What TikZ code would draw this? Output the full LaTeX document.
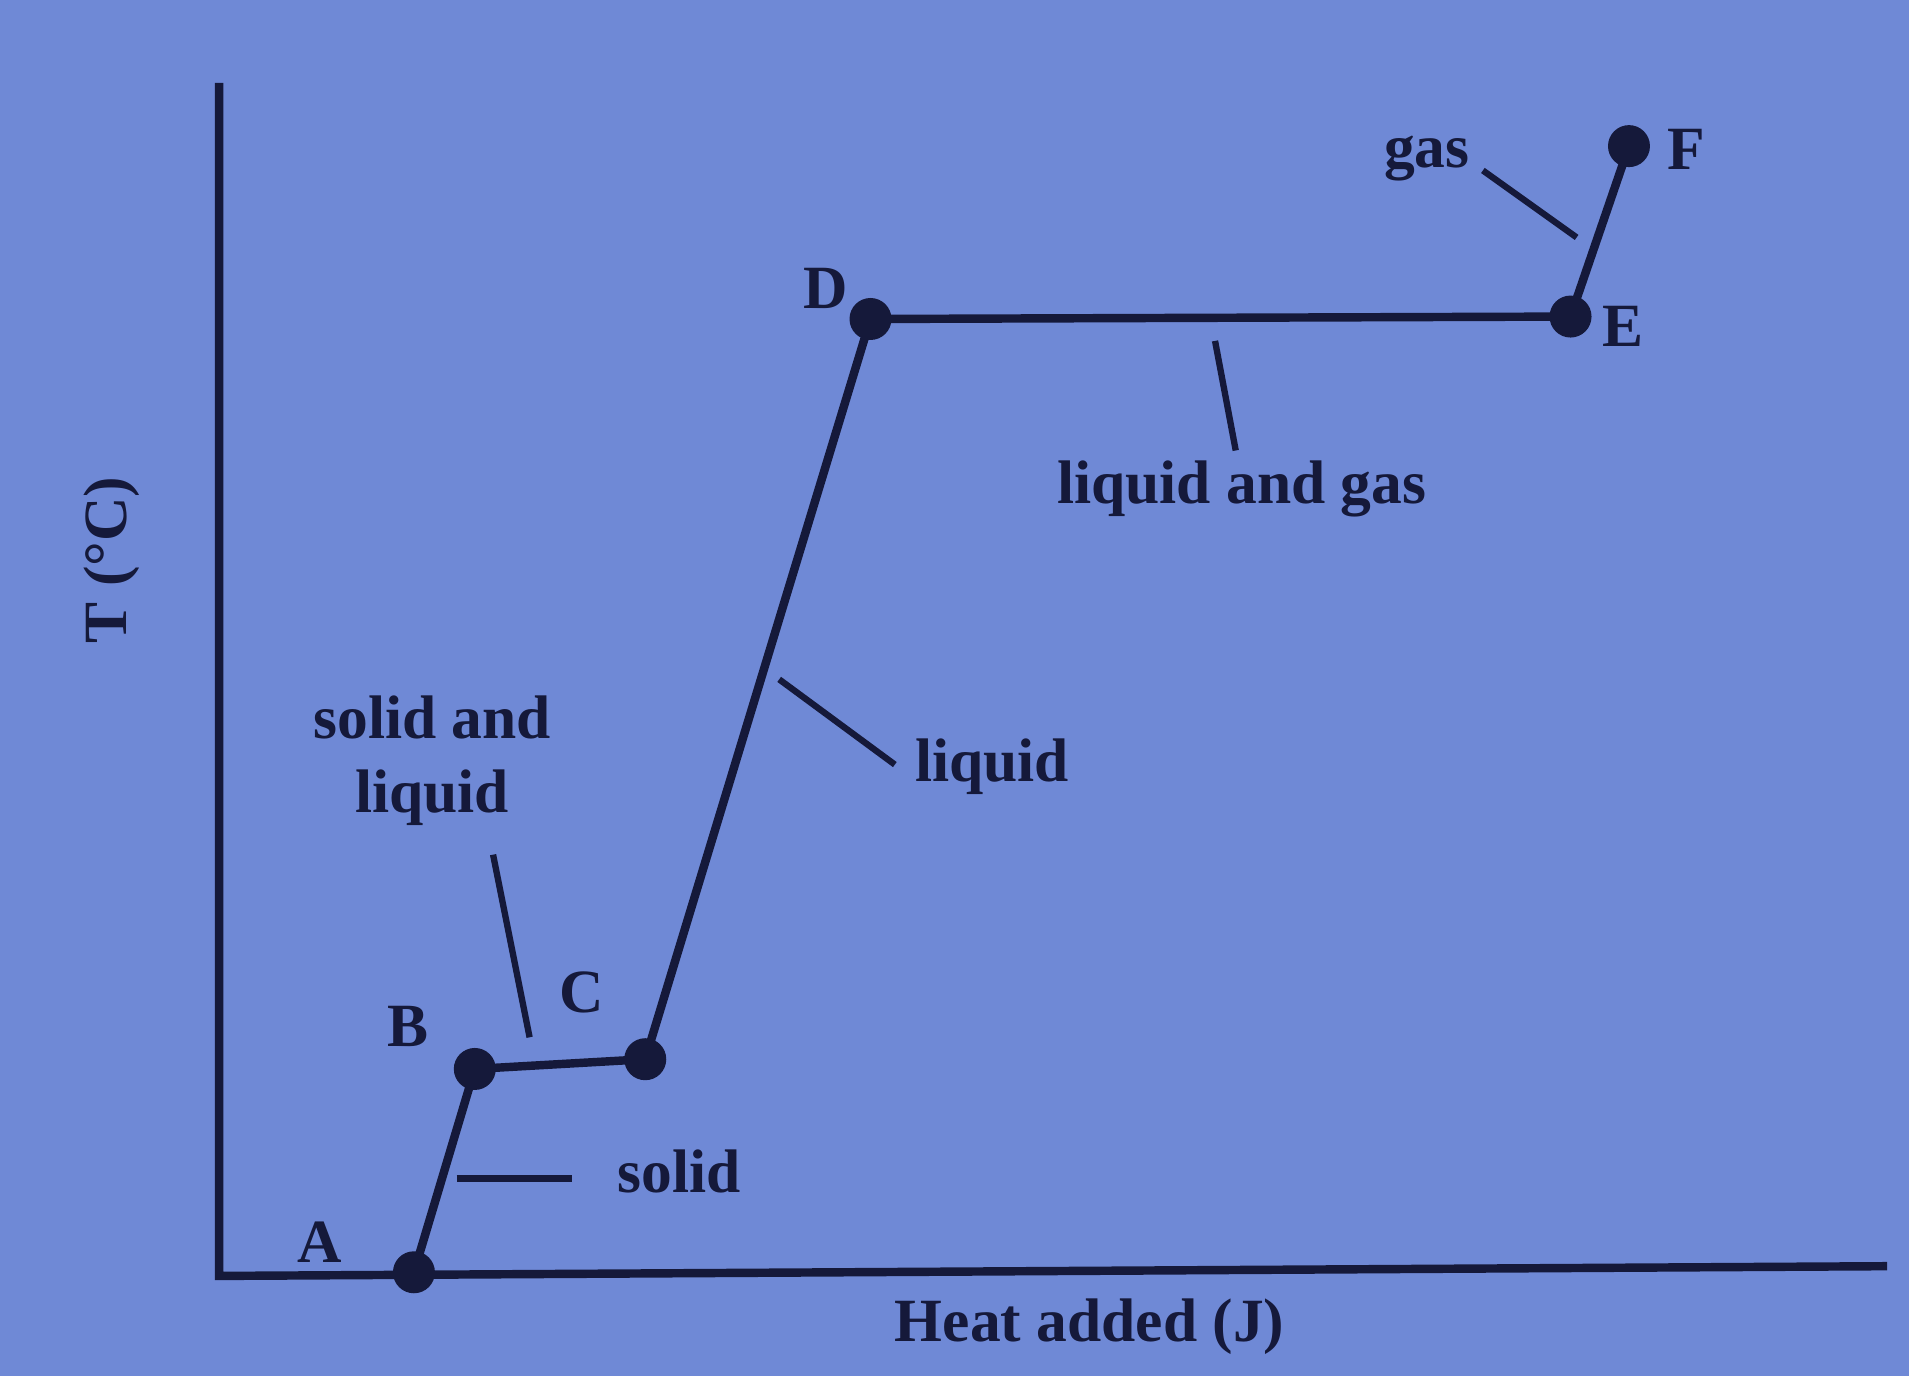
\documentclass[tikz,border=0pt]{standalone}
\usepackage{fontspec}
\setmainfont{Liberation Serif}
\definecolor{paper}{HTML}{6F89D6}
\definecolor{ink}{HTML}{15193A}
\begin{document}
\begin{tikzpicture}[x=0.012175cm,y=-0.012175cm,
    lbl/.style={font=\bfseries\fontsize{17.5}{21}\selectfont, text=ink},
    pt/.style={circle, fill=ink, inner sep=0pt, minimum size=0.42cm},
    curve/.style={ink, line width=2.4pt},
    tick/.style={ink, line width=1.8pt}]
    \fill[paper] (0,0) rectangle (1568,1130);

    % Axes
    \draw[curve] (180,68) -- (180,1048) -- (1550,1040);
    \node[lbl, rotate=90] (ylab) at (92,460) {T (°C)};
    \node[lbl] (xlab) at (895,1090) {Heat added (J)};

    % Heating curve
    \node[pt] (A) at (340,1045) {};
    \node[pt] (B) at (390,878) {};
    \node[pt] (C) at (530,870) {};
    \node[pt] (D) at (715,262) {};
    \node[pt] (E) at (1290,260) {};
    \node[pt] (F) at (1338,120) {};
    \draw[curve] (A.center) -- (B.center) -- (C.center) -- (D.center) -- (E.center) -- (F.center);

    % Point labels
    \node[lbl] (la) at (263,1020) {A};
    \node[lbl] (lb) at (335,843) {B};
    \node[lbl] (lc) at (478,815) {C};
    \node[lbl] (ld) at (678,237) {D};
    \node[lbl] (le) at (1333,268) {E};
    \node[lbl] (lf) at (1385,123) {F};

    % Phase labels
    \node[lbl] (solid) at (558,962) {solid};
    \coordinate (s1) at (375,968);
    \coordinate (s2) at (470,968);
    \draw[tick] (s1) -- (s2);

    \node[lbl, align=center] (sl) at (355,625) {solid and\\liquid};
    \coordinate (sl1) at (405,702);
    \coordinate (sl2) at (435,852);
    \draw[tick] (sl1) -- (sl2);

    \node[lbl] (liq) at (815,630) {liquid};
    \coordinate (l1) at (640,558);
    \coordinate (l2) at (735,628);
    \draw[tick] (l1) -- (l2);

    \node[lbl] (lg) at (1020,402) {liquid and gas};
    \coordinate (lg1) at (998,280);
    \coordinate (lg2) at (1015,370);
    \draw[tick] (lg1) -- (lg2);

    \node[lbl] (gas) at (1172,130) {gas};
    \coordinate (g1) at (1218,140);
    \coordinate (g2) at (1295,195);
    \draw[tick] (g1) -- (g2);
\end{tikzpicture}
\end{document}
